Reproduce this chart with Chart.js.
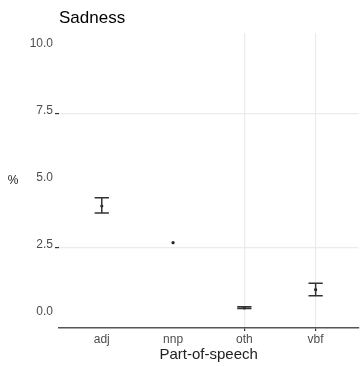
<!DOCTYPE html>
<html>
<head>
<meta charset="utf-8">
<script src="https://cdn.jsdelivr.net/npm/chart.js@4/dist/chart.umd.min.js"></script>
<style>
  html, body { margin: 0; padding: 0; background: #fff; }
  #wrap { width: 360px; height: 367px; position: relative; }
</style>
</head>
<body>
<div id="wrap"><canvas id="sad" width="360" height="367"></canvas></div>
<script>
// part-of-speech shares for the sadness lexicon, mean with interval
var categories = ['adj', 'nnp', 'oth', 'vbf'];
var meanPct  = [4.05, 2.68, 0.25, 0.93];
var lowerPct = [3.79, null, 0.23, 0.70];
var upperPct = [4.36, null, 0.29, 1.17];
var yTicks = [0, 2.5, 5, 7.5, 10];

var points = meanPct.map(function (v, i) { return { x: i + 1, y: v }; });

var inkGrey = '#4d4d4d';
var gridGrey = '#ebebeb';

// interval whiskers with caps, placed with the chart's own scales
var errorBars = {
    id: 'errorBars',
    afterDatasetsDraw: function (chart) {
        var xs = chart.scales.x, ys = chart.scales.y, c = chart.ctx;
        c.save();
        c.strokeStyle = '#333';
        c.lineWidth = 1.5;
        for (var i = 0; i < categories.length; i++) {
            if (lowerPct[i] == null || upperPct[i] == null) continue;
            var px = xs.getPixelForValue(i + 1);
            var half = (xs.getPixelForValue(1.1) - xs.getPixelForValue(1)) ;
            var lo = ys.getPixelForValue(lowerPct[i]);
            var hi = ys.getPixelForValue(upperPct[i]);
            c.beginPath();
            c.moveTo(px, lo); c.lineTo(px, hi);
            c.moveTo(px - half, lo); c.lineTo(px + half, lo);
            c.moveTo(px - half, hi); c.lineTo(px + half, hi);
            c.stroke();
        }
        c.restore();
    }
};

// the "%" label sits level, left of the tick labels
var yLabel = {
    id: 'yLabel',
    afterDraw: function (chart) {
        var a = chart.chartArea, c = chart.ctx;
        c.save();
        c.fillStyle = '#222';
        c.font = '12px "Liberation Sans", Arial, sans-serif';
        c.textAlign = 'center';
        c.textBaseline = 'middle';
        c.fillText('%', 13, (a.top + a.bottom) / 2);
        c.restore();
    }
};

var ctx = document.getElementById('sad').getContext('2d');
var chart = new Chart(ctx, {
    type: 'scatter',
    data: {
        datasets: [{
            data: points,
            pointRadius: 1.6,
            pointHoverRadius: 1.6,
            backgroundColor: '#222',
            borderColor: '#222',
            borderWidth: 0
        }]
    },
    options: {
        responsive: false,
        animation: false,
        devicePixelRatio: 1,
        layout: { padding: 0 },
        plugins: {
            legend: { display: false },
            tooltip: { enabled: false },
            title: {
                display: true,
                text: 'Sadness',
                align: 'start',
                fullSize: false,
                color: '#000',
                font: { family: '"Liberation Sans", Arial, sans-serif', size: 17, weight: 'normal' },
                padding: { top: 8, bottom: 4.6 }
            }
        },
        scales: {
            x: {
                type: 'linear',
                min: 0.4,
                max: 4.6,
                afterBuildTicks: function (s) {
                    s.ticks = categories.map(function (c, i) { return { value: i + 1 }; });
                },
                afterFit: function (s) { s.height = 39; },
                ticks: {
                    color: inkGrey,
                    padding: 1,
                    maxRotation: 0,
                    font: { family: '"Liberation Sans", Arial, sans-serif', size: 12 },
                    callback: function (v) { return categories[v - 1]; }
                },
                grid: {
                    color: function (ctx) {
                        return (ctx.tick && ctx.tick.value >= 3) ? gridGrey : 'rgba(0,0,0,0)';
                    },
                    tickColor: function (ctx) {
                        return (ctx.tick && ctx.tick.value >= 3) ? '#333' : 'rgba(0,0,0,0)';
                    },
                    lineWidth: 1.2,
                    tickLength: 3
                },
                border: { display: true, color: '#555', width: 1.6 },
                title: {
                    display: true,
                    text: 'Part-of-speech',
                    color: '#222',
                    font: { family: '"Liberation Sans", Arial, sans-serif', size: 15 },
                    padding: { top: 0, bottom: 3 }
                }
            },
            y: {
                min: -0.5,
                max: 10.5,
                afterBuildTicks: function (s) {
                    s.ticks = yTicks.map(function (v) { return { value: v }; });
                },
                afterFit: function (s) { s.width = 59; },
                ticks: {
                    color: inkGrey,
                    padding: 2,
                    labelOffset: -3,
                    font: { family: '"Liberation Sans", Arial, sans-serif', size: 12 },
                    callback: function (v) { return v.toFixed(1); }
                },
                grid: {
                    color: function (ctx) {
                        return (ctx.tick && (ctx.tick.value === 2.5 || ctx.tick.value === 7.5)) ? gridGrey : 'rgba(0,0,0,0)';
                    },
                    tickColor: function (ctx) {
                        return (ctx.tick && (ctx.tick.value === 2.5 || ctx.tick.value === 7.5)) ? '#333' : 'rgba(0,0,0,0)';
                    },
                    lineWidth: 1.2,
                    tickLength: 4
                },
                border: { display: false }
            }
        }
    },
    plugins: [errorBars, yLabel]
});
</script>
</body>
</html>
